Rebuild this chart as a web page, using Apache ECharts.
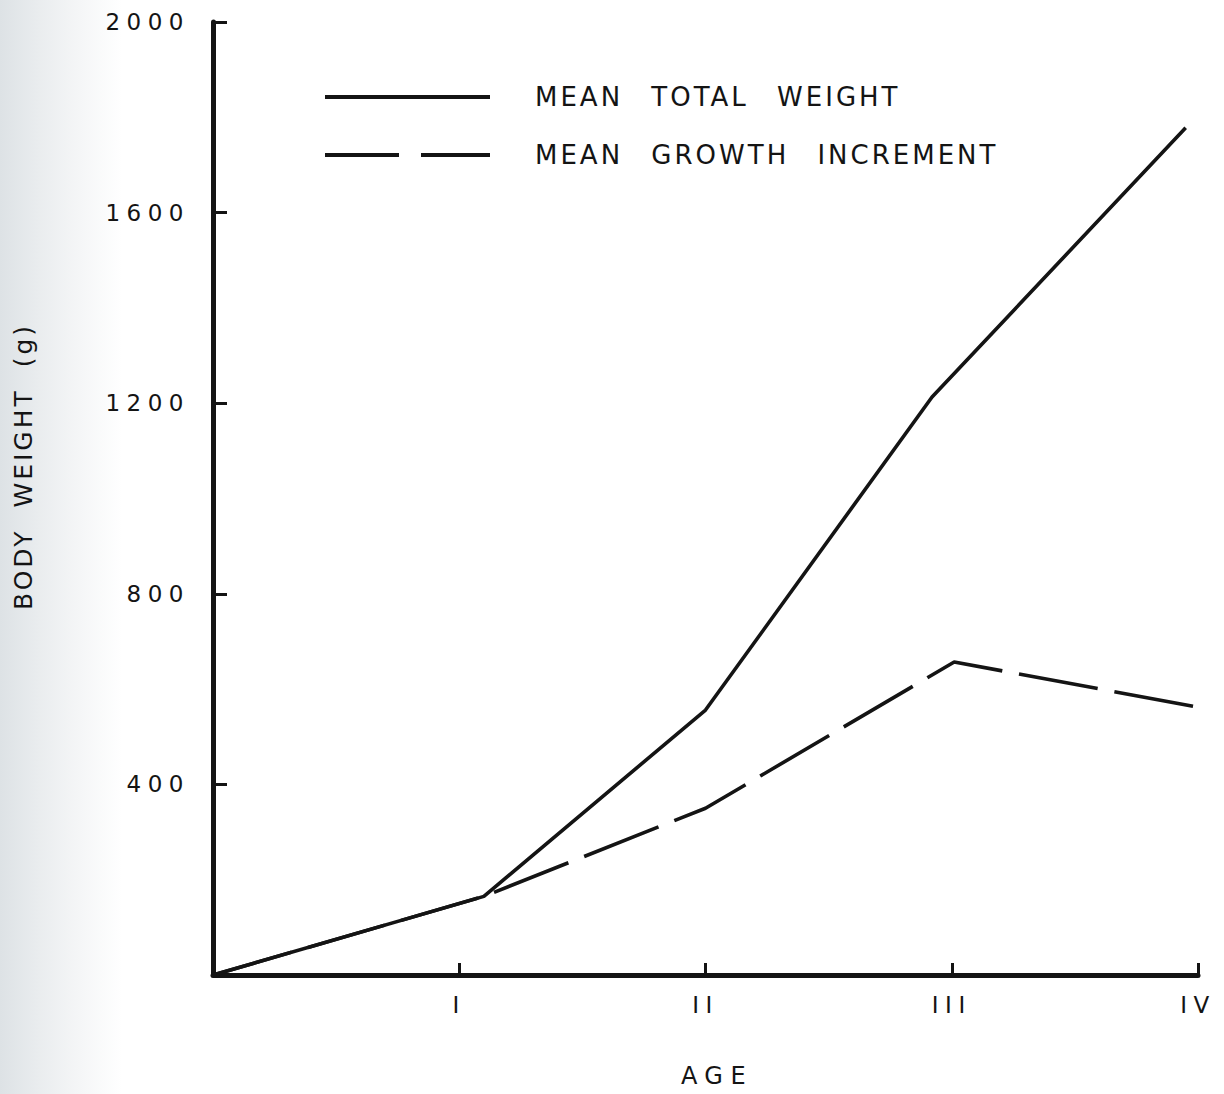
<!DOCTYPE html>
<html>
<head>
<meta charset="utf-8">
<script src="https://cdn.jsdelivr.net/npm/echarts@6/dist/echarts.min.js"></script>
<style>
  html, body { margin: 0; padding: 0; background: #ffffff; }
  #chart { width: 1224px; height: 1094px; }
</style>
</head>
<body>
<div id="chart"></div>
<script>
// ---- data ----
const xTickLabels = ['', 'I', 'II', 'III', 'IV'];
const seriesNames = ['MEAN TOTAL WEIGHT', 'MEAN GROWTH INCREMENT'];
const totalAge = [0, 1.1, 2, 2.92, 3.95];
const totalWeight = [0, 165, 556, 1213, 1778];
const growthAge = [0, 1.1, 2, 3.01, 4];
const growthIncrement = [0, 165, 350, 657, 562];
const xAxisName = 'AGE';
const yAxisName = 'BODY WEIGHT (g)';

const INK = '#141414';
const FONT = 'DejaVu Sans';

const chart = echarts.init(document.getElementById('chart'), null, { renderer: 'svg' });

const option = {
  animation: false,
  backgroundColor: '#ffffff',
  graphic: [{
    type: 'rect', z: -100, silent: true,
    shape: { x: 0, y: 0, width: 1224, height: 1094 },
    style: {
      fill: new echarts.graphic.LinearGradient(0, 0, 1, 0, [
        { offset: 0, color: '#dde2e5' },
        { offset: 0.03, color: '#e9ecee' },
        { offset: 0.065, color: '#f5f6f7' },
        { offset: 0.1, color: '#ffffff' },
        { offset: 1, color: '#ffffff' }
      ])
    }
  }],
  grid: { left: 213, right: 26, top: 22, bottom: 119, containLabel: false },
  legend: {
    orient: 'vertical', left: 325, top: 82, padding: 0,
    itemWidth: 165, itemHeight: 4, itemGap: 28,
    itemStyle: { borderWidth: 0 },
    textStyle: { fontFamily: FONT, fontSize: 26, color: INK, lineHeight: 30, padding: [0, 0, 0, 40] },
    data: [
      { name: seriesNames[0], icon: 'path://M0,0H165V4H0Z' },
      { name: seriesNames[1], icon: 'path://M0,0H74V4H0ZM96,0H165V4H96Z' }
    ],
    selectedMode: false
  },
  xAxis: {
    type: 'value', min: 0, max: 4, interval: 1,
    name: xAxisName, nameLocation: 'middle', nameGap: 89,
    nameTextStyle: { fontFamily: FONT, fontSize: 24, color: INK, padding: [0, 0, 0, 23] },
    axisLine: { show: true, onZero: false, lineStyle: { color: INK, width: 5 } },
    axisTick: { show: true, inside: true, length: 12, lineStyle: { color: INK, width: 3 } },
    axisLabel: {
      fontFamily: FONT, fontSize: 23, color: INK, margin: 18,
      formatter: v => xTickLabels[Math.round(v)] || ''
    },
    splitLine: { show: false }
  },
  yAxis: {
    type: 'value', min: 0, max: 2000, interval: 400,
    name: yAxisName, nameLocation: 'middle', nameGap: 177,
    nameTextStyle: { fontFamily: FONT, fontSize: 25, color: INK, padding: [0, 0, 0, 64] },
    axisLine: { show: true, onZero: false, lineStyle: { color: INK, width: 5 } },
    axisTick: { show: true, inside: true, length: 14, lineStyle: { color: INK, width: 3 } },
    axisLabel: {
      fontFamily: FONT, fontSize: 23, color: INK, margin: 23,
      formatter: v => (v === 0 ? '' : String(v))
    },
    splitLine: { show: false }
  },
  series: [
    {
      name: seriesNames[1], type: 'line', symbol: 'none', z: 2,
      color: INK,
      lineStyle: { color: INK, width: 3.6, type: [80, 17], dashOffset: 95 },
      data: growthAge.map((a, i) => [a, growthIncrement[i]])
    },
    {
      name: seriesNames[0], type: 'line', symbol: 'none', z: 3,
      color: INK,
      lineStyle: { color: INK, width: 3.6, type: 'solid' },
      data: totalAge.map((a, i) => [a, totalWeight[i]])
    }
  ]
};
chart.setOption(option);

// letter / word spacing of the lettering (by font size)
const spacing = { 23: [6.5, 0], 24: [7.5, 0], 25: [3, 10], 26: [3, 17] };
function applySpacing() {
  document.querySelectorAll('#chart text').forEach(t => {
    const fs = Math.round(parseFloat(getComputedStyle(t).fontSize));
    const s = spacing[fs];
    if (s) { t.style.letterSpacing = s[0] + 'px'; t.style.wordSpacing = s[1] + 'px'; }
  });
}
chart.on('finished', applySpacing);
setTimeout(applySpacing, 50);
setTimeout(applySpacing, 300);
</script>
</body>
</html>
